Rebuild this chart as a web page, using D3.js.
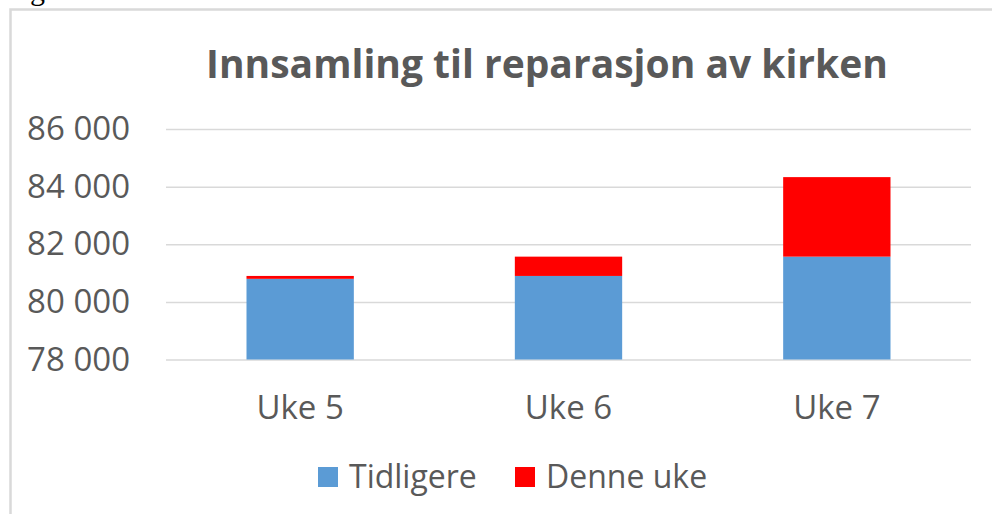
<!DOCTYPE html>
<html>
<head>
  <meta charset="utf-8">
  <title>Innsamling til reparasjon av kirken</title>
  <style>
    body { margin: 0; background: #fff; }
    svg text { font-family: "Open Sans", sans-serif; fill: #595959; }
  </style>
</head>
<body>
  <svg width="992" height="514"></svg>
  <script src="https://d3js.org/d3.v7.min.js"></script>
  <script>
  // data
  const weeks = ["Uke 5", "Uke 6", "Uke 7"];
  const tidligere = [80800, 80900, 81570];
  const denneUke = [100, 670, 2760];
  const seriesNames = ["Tidligere", "Denne uke"];
  const seriesColors = ["#5b9bd5", "#ff0000"];
  const yTicks = [78000, 80000, 82000, 84000, 86000];

  const svg = d3.select("svg");

  // leftover glyph from the page above the chart
  svg.append("text")
    .attr("x", 30).attr("y", 0)
    .style("font-family", "'Liberation Serif', serif")
    .style("font-size", "30px")
    .style("fill", "#000")
    .text("g");

  // chart frame
  svg.append("rect")
    .attr("x", 10.5).attr("y", 9.5)
    .attr("width", 1000).attr("height", 520)
    .attr("fill", "#fff")
    .attr("stroke", "#d9d9d9")
    .attr("stroke-width", 2.5);

  svg.append("text")
    .attr("x", 547).attr("y", 78)
    .attr("text-anchor", "middle")
    .style("font-weight", "bold")
    .style("font-size", "39px")
    .text("Innsamling til reparasjon av kirken");

  const rows = weeks.map((w, i) => ({ week: w, Tidligere: tidligere[i], "Denne uke": denneUke[i] }));
  const stacked = d3.stack().keys(seriesNames)(rows);

  const x = d3.scaleBand().domain(weeks).range([166, 971]).paddingInner(0.6).paddingOuter(0.3);
  const y = d3.scaleLinear().domain([78000, 86000]).range([359.5, 129]).clamp(true);

  const fmt = v => d3.format(",")(v).replace(",", " ");

  const yAxis = svg.append("g")
    .attr("transform", "translate(166,0)")
    .call(d3.axisLeft(y).tickValues(yTicks).tickSize(-805).tickPadding(36).tickFormat(fmt));
  yAxis.select(".domain").remove();
  yAxis.selectAll(".tick line").attr("stroke", "#d9d9d9").attr("stroke-width", 1.5);
  yAxis.selectAll(".tick text")
    .style("font-size", "33px")
    .style("fill", "#595959")
    .style("font-family", "'Open Sans', sans-serif");

  svg.append("g")
    .selectAll("g")
    .data(stacked)
    .join("g")
    .attr("fill", (d, i) => seriesColors[i])
    .selectAll("rect")
    .data(d => d)
    .join("rect")
    .attr("x", d => x(d.data.week))
    .attr("y", d => y(d[1]))
    .attr("width", x.bandwidth())
    .attr("height", d => y(d[0]) - y(d[1]));

  const xAxis = svg.append("g")
    .attr("transform", "translate(0,359.5)")
    .call(d3.axisBottom(x).tickSize(0).tickPadding(36));
  xAxis.select(".domain").remove();
  xAxis.selectAll(".tick text")
    .style("font-size", "33px")
    .style("fill", "#595959")
    .style("font-family", "'Open Sans', sans-serif");

  // legend
  const legendX = [318, 515];
  const legend = svg.append("g")
    .selectAll("g")
    .data(seriesNames)
    .join("g")
    .attr("transform", (d, i) => `translate(${legendX[i]},467)`);
  legend.append("rect")
    .attr("width", 20).attr("height", 20)
    .attr("fill", (d, i) => seriesColors[i]);
  legend.append("text")
    .attr("x", 31).attr("y", 10)
    .attr("dy", "0.35em")
    .style("font-size", "32px")
    .text(d => d);
  </script>
</body>
</html>
